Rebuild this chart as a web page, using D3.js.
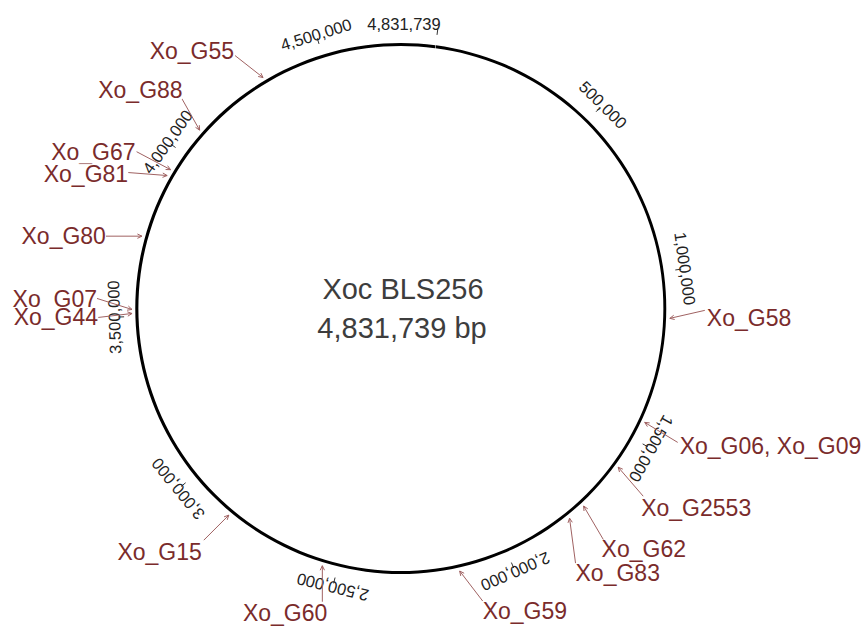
<!DOCTYPE html>
<html>
<head>
<meta charset="utf-8">
<script src="https://cdn.jsdelivr.net/npm/d3@7"></script>
<style>
  html, body { margin: 0; padding: 0; background: #ffffff; }
  svg { display: block; }
</style>
</head>
<body>
<svg id="chart" width="868" height="630"></svg>
<script>
// ---------------- data ----------------
const genomeName = "Xoc BLS256";
const genomeLength = 4831739;
const genomeLengthLabel = "4,831,739 bp";

const tickValues = [500000, 1000000, 1500000, 2000000, 2500000, 3000000, 3500000, 4000000, 4500000];
const tickLabels = ["500,000", "1,000,000", "1,500,000", "2,000,000", "2,500,000", "3,000,000", "3,500,000", "4,000,000", "4,500,000"];
const endTickValue = 4831739;
const endTickLabel = "4,831,739";

const geneNames = ["Xo_G55", "Xo_G88", "Xo_G67", "Xo_G81", "Xo_G80", "Xo_G07", "Xo_G44", "Xo_G15", "Xo_G60", "Xo_G59", "Xo_G83", "Xo_G62", "Xo_G2553", "Xo_G06, Xo_G09", "Xo_G58"];
const genePositions = [4317000, 4080500, 3940100, 3920700, 3732500, 3520400, 3508900, 2849400, 2543400, 2146100, 1794500, 1741400, 1592500, 1443500, 1135500];

// ---------------- layout (callout placement, not data) ----------------
// [line start dx, dy from arrow tip], [text dx, dy from line start], anchor
const calloutLayout = [
  [[-28, -22], [-1, 3], "end"],
  [[-18, -32], [1, 0], "end"],
  [[-34, -18], [-1, 8.5], "end"],
  [[-39, -3], [0, 9], "end"],
  [[-36, 0], [0, 8], "end"],
  [[-35, -11], [0, 9], "end"],
  [[-34, 4], [0, 8], "end"],
  [[-25, 25], [-2, 20], "end"],
  [[0, 36], [5, 19], "end"],
  [[23, 30], [0, 18], "start"],
  [[6, 45], [0, 18], "start"],
  [[20, 34], [-2, 17], "start"],
  [[25, 29], [-2, 20], "start"],
  [[33, 20], [2, 12], "start"],
  [[35, -8], [2, 16], "start"]
];

const cx = 401, cy = 308.5, R = 264;
const startAngleDeg = 7.5;

const svg = d3.select("#chart");

const angle = d3.scaleLinear().domain([0, genomeLength]).range([startAngleDeg, startAngleDeg + 360]);
const rad = d => d * Math.PI / 180;
const polar = (deg, r) => [cx + r * Math.sin(rad(deg)), cy - r * Math.cos(rad(deg))];

const g = svg.append("g");

// backbone circle with a hairline gap at the origin
const arc = d3.arc()
  .innerRadius(R - 1.5)
  .outerRadius(R + 1.5)
  .startAngle(rad(angle(0) + 0.06))
  .endAngle(rad(angle(genomeLength) - 0.06));
g.append("path")
  .attr("transform", `translate(${cx},${cy})`)
  .attr("d", arc())
  .attr("fill", "#000");

// ticks
const tickFont = "Liberation Sans, Arial, sans-serif";
const tickG = g.append("g");
tickValues.forEach((v, i) => {
  const a = angle(v);
  const p1 = polar(a, 277), p2 = polar(a, 283);
  tickG.append("line")
    .attr("x1", p1[0]).attr("y1", p1[1]).attr("x2", p2[0]).attr("y2", p2[1])
    .attr("stroke", "#333").attr("stroke-width", 1);
  tickG.append("text")
    .attr("transform", `translate(${cx},${cy}) rotate(${a}) translate(0,${-281})`)
    .attr("text-anchor", "middle")
    .attr("font-family", tickFont)
    .attr("font-size", 16.5)
    .attr("fill", "#222")
    .text(tickLabels[i]);
});
{
  const a = angle(endTickValue);
  const p1 = polar(a, 276), p2 = polar(a, 282);
  tickG.append("line")
    .attr("x1", p1[0]).attr("y1", p1[1]).attr("x2", p2[0]).attr("y2", p2[1])
    .attr("stroke", "#333").attr("stroke-width", 1);
  const p = polar(a, 281);
  tickG.append("text")
    .attr("x", p[0] + 3).attr("y", p[1])
    .attr("text-anchor", "end")
    .attr("font-family", tickFont)
    .attr("font-size", 16.5)
    .attr("fill", "#222")
    .text(endTickLabel);
}

// gene callouts
const geneColor = "#7a2b2b";
const lineColor = "#a06262";
const calloutG = g.append("g");
const tipR = 269;
geneNames.forEach((name, i) => {
  const a = angle(genePositions[i]);
  const tip = polar(a, tipR);
  const [[ldx, ldy], [tdx, tdy], anchor] = calloutLayout[i];
  const ls = [tip[0] + ldx, tip[1] + ldy];

  calloutG.append("line")
    .attr("x1", ls[0]).attr("y1", ls[1]).attr("x2", tip[0]).attr("y2", tip[1])
    .attr("stroke", lineColor).attr("stroke-width", 1);

  // open arrowhead at tip
  const ang = Math.atan2(tip[1] - ls[1], tip[0] - ls[0]);
  const hl = 5, spread = 0.45;
  const h1 = [tip[0] - hl * Math.cos(ang - spread), tip[1] - hl * Math.sin(ang - spread)];
  const h2 = [tip[0] - hl * Math.cos(ang + spread), tip[1] - hl * Math.sin(ang + spread)];
  calloutG.append("path")
    .attr("d", d3.line()([h1, tip, h2]))
    .attr("fill", "none")
    .attr("stroke", lineColor).attr("stroke-width", 1);

  const tx = ls[0] + tdx, ty = ls[1] + tdy;
  const fs = 23;
  const t = calloutG.append("text")
    .attr("x", tx).attr("y", ty)
    .attr("text-anchor", anchor)
    .attr("font-family", "Liberation Sans, Arial, sans-serif")
    .attr("font-size", fs)
    .attr("fill", geneColor)
    .text(name);
  const bb = t.node().getBBox();
  // white label box (covers only the glyph band), placed behind the text
  calloutG.insert("rect", () => t.node())
    .attr("x", bb.x).attr("y", ty - fs * 0.76)
    .attr("width", bb.width).attr("height", fs * 0.76 + 1)
    .attr("fill", "#fff");
});

// centre title
const titleG = g.append("g");
titleG.append("text")
  .attr("x", cx + 2).attr("y", 299)
  .attr("text-anchor", "middle")
  .attr("font-family", "Liberation Sans, Arial, sans-serif")
  .attr("font-size", 29)
  .attr("fill", "#3d3d3d")
  .text(genomeName);
titleG.append("text")
  .attr("x", cx + 1).attr("y", 338)
  .attr("text-anchor", "middle")
  .attr("font-family", "Liberation Sans, Arial, sans-serif")
  .attr("font-size", 29)
  .attr("fill", "#3d3d3d")
  .text(genomeLengthLabel);
</script>
</body>
</html>
